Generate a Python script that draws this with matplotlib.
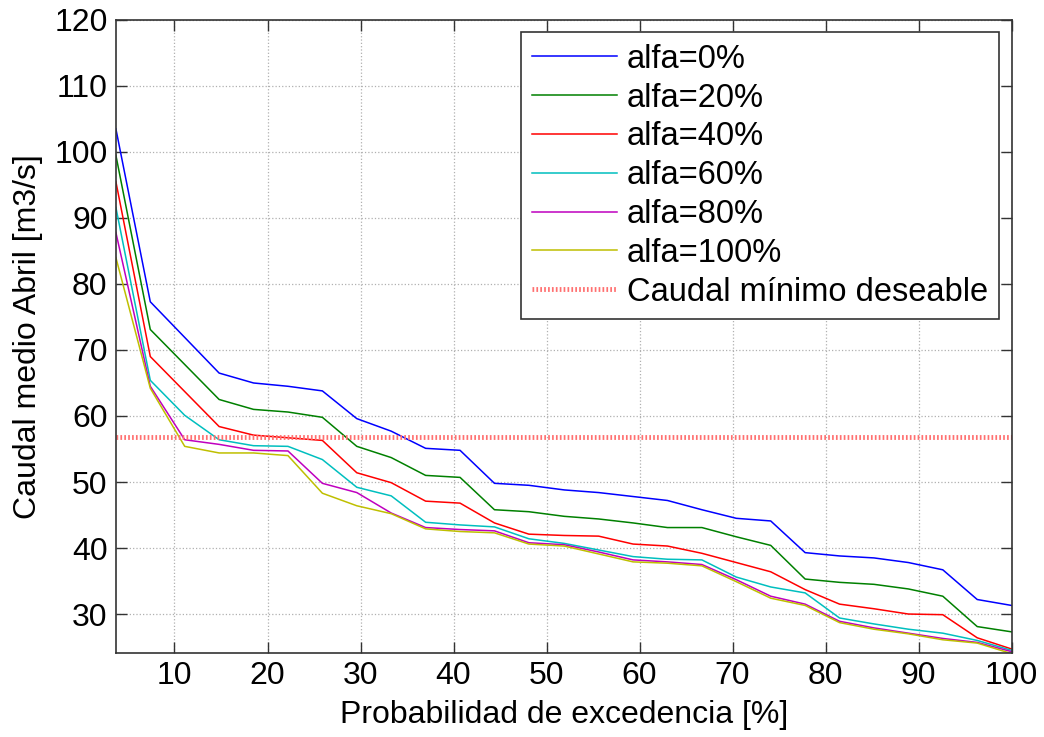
import numpy as np
import matplotlib
matplotlib.use('Agg')
import matplotlib.pyplot as plt

plt.rcParams['font.family'] = ['Liberation Sans', 'DejaVu Sans']

# Probabilidad de excedencia [%]
prob = [3.7, 7.4, 11.1, 14.8, 18.5, 22.2, 25.9, 29.6, 33.3, 37.0, 40.7,
        44.4, 48.1, 51.9, 55.6, 59.3, 63.0, 66.7, 70.4, 74.1, 77.8, 81.5,
        85.2, 88.9, 92.6, 96.3, 100.0]

alfa_0 = [103.5, 77.3, 71.9, 66.5, 65.0, 64.5, 63.8, 59.6, 57.7, 55.1, 54.8,
          49.8, 49.5, 48.8, 48.4, 47.8, 47.2, 45.8, 44.5, 44.1, 39.3, 38.8,
          38.5, 37.8, 36.7, 32.2, 31.3]
alfa_20 = [99.5, 73.1, 67.8, 62.5, 61.0, 60.6, 59.8, 55.4, 53.7, 51.0, 50.7,
           45.8, 45.5, 44.8, 44.4, 43.8, 43.1, 43.1, 41.7, 40.4, 35.3, 34.8,
           34.5, 33.8, 32.7, 28.1, 27.3]
alfa_40 = [95.5, 69.0, 63.7, 58.4, 57.1, 56.7, 56.3, 51.4, 49.9, 47.1, 46.8,
           43.8, 42.1, 41.9, 41.8, 40.6, 40.3, 39.2, 37.8, 36.4, 33.7, 31.5,
           30.8, 30.0, 29.9, 26.4, 24.7]
alfa_60 = [91.6, 65.4, 60.1, 56.4, 55.5, 55.4, 53.4, 49.2, 47.9, 43.9, 43.5,
           43.2, 41.4, 40.7, 39.7, 38.7, 38.3, 38.2, 35.6, 34.1, 33.2, 29.4,
           28.5, 27.7, 27.1, 26.0, 24.5]
alfa_80 = [87.8, 64.5, 56.4, 55.7, 54.8, 54.7, 49.8, 48.4, 45.3, 43.1, 42.8,
           42.6, 40.8, 40.5, 39.4, 38.2, 37.9, 37.5, 35.2, 32.7, 31.5, 28.9,
           27.9, 27.1, 26.3, 25.7, 24.3]
alfa_100 = [84.0, 64.2, 55.4, 54.4, 54.4, 54.0, 48.3, 46.4, 45.2, 42.9, 42.5,
            42.3, 40.6, 40.3, 39.1, 37.9, 37.7, 37.3, 34.9, 32.4, 31.3, 28.7,
            27.7, 27.0, 26.1, 25.6, 24.0]

caudal_minimo = 56.8

series = [alfa_0, alfa_20, alfa_40, alfa_60, alfa_80, alfa_100]
labels = ['alfa=0%', 'alfa=20%', 'alfa=40%', 'alfa=60%', 'alfa=80%', 'alfa=100%']
colors = ['#0000ff', '#008000', '#ff0000', '#00bfbf', '#bf00bf', '#bfbf00']

fig = plt.figure(figsize=(10.44, 7.37), dpi=100)
ax = fig.add_axes([0.111, 0.114, 0.858, 0.859])

for vals, lab, col in zip(series, labels, colors):
    ax.plot(prob, vals, color=col, lw=1.1, label=lab)
ax.axhline(caudal_minimo, color='#ff7070', lw=3.5, ls=(0, (0.35, 0.45)),
           label='Caudal mínimo deseable')

ax.set_xlim(3.7, 100)
ax.set_ylim(24.1, 120)
ax.set_xticks(np.arange(10, 101, 10))
ax.set_yticks(np.arange(30, 121, 10))
ax.grid(True, ls=':', color='#b0b0b0', lw=0.9)
ax.tick_params(direction='in', length=8, width=1, top=True, right=True,
               labelsize=23, colors='#333333', labelcolor='black', pad=6)
for sp in ax.spines.values():
    sp.set_color('#333333')
    sp.set_linewidth(1.2)

ax.set_xlabel('Probabilidad de excedencia [%]', fontsize=23, labelpad=6)
ax.set_ylabel('Caudal medio Abril [m3/s]', fontsize=23, labelpad=8)

leg = ax.legend(loc='upper right', fontsize=23.5, handlelength=2.6,
                handletextpad=0.3, labelspacing=0.24, borderpad=0.35,
                borderaxespad=0.38, fancybox=False, framealpha=1,
                edgecolor='#333333')
leg.get_frame().set_linewidth(1.2)

fig.savefig('out.png', dpi=100)
